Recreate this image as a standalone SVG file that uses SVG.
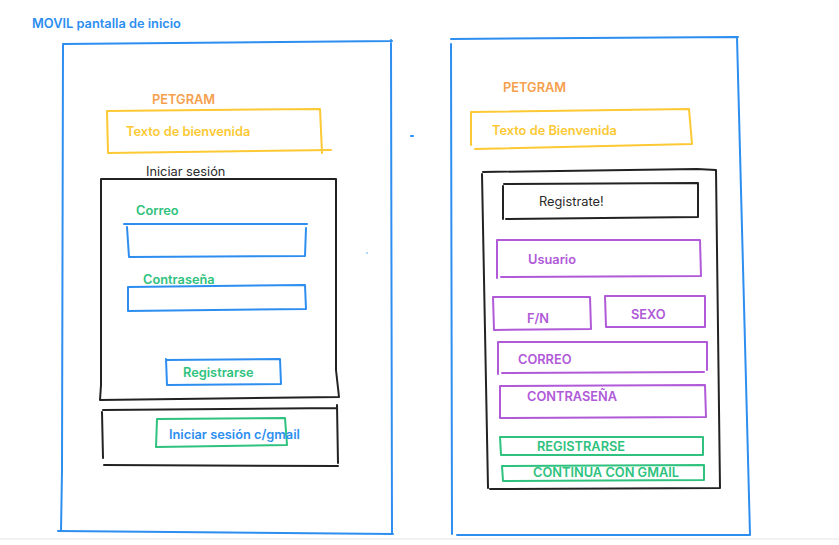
<svg xmlns="http://www.w3.org/2000/svg" width="839" height="545" viewBox="0 0 839 545">
<style>
.s{fill:none;stroke-width:2;stroke-linecap:round;stroke-linejoin:round}
.b{stroke:#2d8ef0}.y{stroke:#fcc934}.k{stroke:#222}.g{stroke:#2ec27e}.p{stroke:#b05ad8}
text{font-family:Inter,"Noto Sans","Liberation Sans",sans-serif;font-size:12.8px;font-weight:600}
.tb{fill:#2d8ef0}.to{fill:#f5a04d}.ty{fill:#fcc934}.tk{fill:#2a2a2a;font-weight:400}.tg{fill:#2ec27e}.tp{fill:#b05ad8}
</style>
<rect width="839" height="545" fill="#fff"/>
<line x1="0" y1="539" x2="839" y2="539" stroke="#eeeeee" stroke-width="1.5"/>
<text class="tb" x="32" y="28">MOVIL pantalla de inicio</text>
<g id="left-screen">
<path class="s b" d="M63 44 L392 41 M63 45 L62 470 L61 531 M58 531 L393 534 M391 40 L392 534"/>
<text class="to" x="152" y="104">PETGRAM</text>
<g id="l-welcome"><path class="s y" d="M107 111 L320 109 L322 153 M107 111 L108 153 L331 150"/><text class="ty" x="126" y="136">Texto de bienvenida</text></g>
<text class="tk" x="146" y="176">Iniciar sesión</text>
<g id="l-login"><path class="s k" d="M101 179 L336 179 L336 370 L339 397 L100 400 L101 385 L101 179"/></g>
<g id="l-correo"><text class="tg" x="136" y="215">Correo</text><path class="s b" d="M124 224 L307 224 M127 227 L129 257 L305 256 L306 228"/></g>
<g id="l-pass"><text class="tg" x="143" y="284">Contraseña</text><path class="s b" d="M128 287 L305 285 L306 309 L128 311 L128 287"/></g>
<g id="l-reg"><path class="s b" d="M166 359 L167 385 L281 384 L280 359 L166 360"/><text class="tg" x="183" y="377">Registrarse</text></g>
<g id="l-gmail"><path class="s k" d="M103 410 L337 408 M102 412 L103 458 M104 465 L338 466 M337 405 L338 463"/><path class="s g" d="M157 419 L285 418 L287 445 L156 447 L157 419"/><text class="tb" x="169" y="439">Iniciar sesión c/gmail</text></g>
</g>
<path class="s b" d="M411 136 L413 136"/>
<circle cx="367" cy="253" r="0.7" fill="#2d8ef0"/>
<g id="right-screen">
<path class="s b" d="M451 39 L738 37 M451 44 L452 534 M457 535 L750 535 M737 37 L750 535"/>
<text class="to" x="503" y="92">PETGRAM</text>
<g id="r-welcome"><path class="s y" d="M471 112 L689 109 L692 144 L475 149 M471 112 L471 145"/><text class="ty" x="492" y="135">Texto de Bienvenida</text></g>
<g id="r-form"><path class="s k" d="M483 172 L697 169 L716 170 L720 488 L490 489 M482 174 L488 488"/></g>
<g id="r-registrate"><path class="s k" d="M504 184 L698 183 L698 217 L506 219 M503 186 L503 219"/><text class="tk" x="539" y="206">Registrate!</text></g>
<g id="r-usuario"><path class="s p" d="M497 240 L700 240 L701 276 L501 277 M497 240 L497 278"/><text class="tp" x="528" y="264">Usuario</text></g>
<g id="r-fn"><path class="s p" d="M493 297 L590 297 L591 329 L494 330 L493 297"/><text class="tp" x="527" y="323">F/N</text></g>
<g id="r-sexo"><path class="s p" d="M605 296 L705 296 L705 327 L606 327 L605 296"/><text class="tp" x="631" y="319">SEXO</text></g>
<g id="r-correo"><path class="s p" d="M498 342 L707 342 L707 370 M502 373 L704 372 M498 342 L498 374"/><text class="tp" x="518" y="364">CORREO</text></g>
<g id="r-pass"><path class="s p" d="M500 386 L705 385 L706 417 L500 418 L500 386"/><text class="tp" x="527" y="401">CONTRASEÑA</text></g>
<g id="r-reg"><path class="s g" d="M500 437 L703 437 L703 455 L501 455 L500 437"/><text class="tg" x="537" y="451">REGISTRARSE</text></g>
<g id="r-gmail"><path class="s g" d="M502 466 L704 465 L704 480 L503 481 L502 466"/><text class="tg" x="533" y="477">CONTINUA CON GMAIL</text></g>
</g>
</svg>
